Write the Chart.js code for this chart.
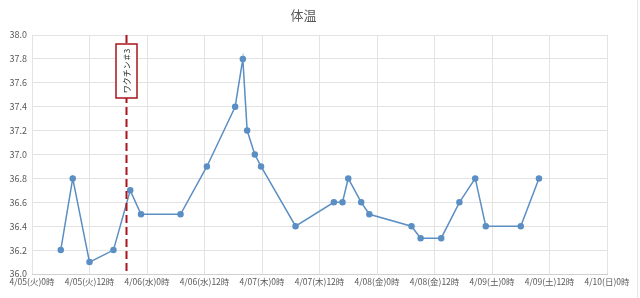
<!DOCTYPE html>
<html>
<head>
<meta charset="utf-8">
<script src="https://cdn.jsdelivr.net/npm/chart.js@4/dist/chart.umd.min.js"></script>
<style>
  html, body { margin: 0; padding: 0; background: #fff; }
  #wrap { width: 640px; height: 298px; position: relative; }
</style>
</head>
<body>
<div id="wrap"><canvas id="chart" width="640" height="298"></canvas></div>
<script>
// 体温 data: hours counted from 4/05(火) 0時
const hours = [6, 8.5, 12, 17, 20.5, 22.75, 31, 36.5, 42.4, 44, 44.9, 46.5, 47.8, 55,
               63, 64.8, 66, 68.7, 70.4, 79.2, 81.1, 85.4, 89.2, 92.5, 94.7, 102, 105.8];
const temps = [36.2, 36.8, 36.1, 36.2, 36.7, 36.5, 36.5, 36.9, 37.4, 37.8, 37.2, 37.0, 36.9, 36.4,
               36.6, 36.6, 36.8, 36.6, 36.5, 36.4, 36.3, 36.3, 36.6, 36.8, 36.4, 36.4, 36.8];
const xLabels = ['4/05(火)0時', '4/05(火)12時', '4/06(水)0時', '4/06(水)12時', '4/07(木)0時',
                 '4/07(木)12時', '4/08(金)0時', '4/08(金)12時', '4/09(土)0時', '4/09(土)12時', '4/10(日)0時'];
const vaccineHour = 19.7;
const vaccineLabel = 'ワクチン＃3';

const FONT = '"Noto Sans CJK JP", "Noto Sans", sans-serif';

// dashed marker line + vertical label box
const vaccineMarker = {
    id: 'vaccineMarker',
    afterDatasetsDraw(chart) {
        const { ctx, chartArea, scales } = chart;
        const x = Math.round(scales.x.getPixelForValue(vaccineHour)) + 0.5;
        ctx.save();
        ctx.strokeStyle = '#a8141c';
        ctx.lineWidth = 2;
        ctx.setLineDash([8, 4]);
        ctx.beginPath();
        ctx.moveTo(x, chartArea.top);
        ctx.lineTo(x, chartArea.bottom);
        ctx.stroke();

        const bw = 21, bh = 54, by = 44;
        ctx.setLineDash([]);
        ctx.fillStyle = '#fff';
        ctx.fillRect(x - bw / 2, by, bw, bh);
        ctx.lineWidth = 1.5;
        ctx.strokeRect(x - bw / 2, by, bw, bh);

        ctx.translate(x, by + bh / 2);
        ctx.rotate(-Math.PI / 2);
        ctx.fillStyle = '#222';
        ctx.font = '8px ' + FONT;
        ctx.textAlign = 'center';
        ctx.textBaseline = 'middle';
        ctx.fillText(vaccineLabel, 0, 0);
        ctx.restore();

        // faint frame edge on the right
        ctx.save();
        ctx.strokeStyle = '#e6e6e6';
        ctx.lineWidth = 1;
        ctx.beginPath();
        ctx.moveTo(637.5, 0);
        ctx.lineTo(637.5, chart.height);
        ctx.stroke();
        ctx.restore();
    }
};

new Chart(document.getElementById('chart'), {
    type: 'line',
    data: {
        datasets: [{
            label: '体温',
            data: hours.map((h, i) => ({ x: h, y: temps[i] })),
            borderColor: '#5b8fc4',
            backgroundColor: '#5b8fc4',
            borderWidth: 1.5,
            pointRadius: 2.5,
            pointHoverRadius: 3,
            tension: 0
        }]
    },
    options: {
        responsive: false,
        animation: false,
        layout: { padding: { left: 0, right: 33, top: 0, bottom: 0 } },
        plugins: {
            legend: { display: false },
            tooltip: { enabled: false },
            title: {
                display: true,
                text: '体温',
                color: '#595959',
                font: { family: FONT, size: 13, weight: 'normal' },
                padding: { top: 7, bottom: 12.4 }
            }
        },
        scales: {
            x: {
                type: 'linear',
                min: 0,
                max: 120,
                afterFit(scale) { scale.height = 24; },
                afterBuildTicks(scale) {
                    scale.ticks = xLabels.map((_, i) => ({ value: i * 12 }));
                },
                ticks: {
                    autoSkip: false,
                    maxRotation: 0,
                    padding: 3,
                    color: '#595959',
                    font: { family: FONT, size: 8.5 },
                    callback: (v) => xLabels[Math.round(v / 12)]
                },
                grid: { color: '#e3e3e3', drawTicks: false },
                border: { color: '#d0d0d0' }
            },
            y: {
                min: 36.0,
                max: 38.0,
                afterFit(scale) { scale.width = 32; },
                ticks: {
                    stepSize: 0.2,
                    padding: 5,
                    color: '#595959',
                    font: { family: FONT, size: 9 },
                    callback: (v) => v.toFixed(1)
                },
                grid: { color: '#e3e3e3', drawTicks: false },
                border: { display: false }
            }
        }
    },
    plugins: [vaccineMarker]
});
</script>
</body>
</html>
